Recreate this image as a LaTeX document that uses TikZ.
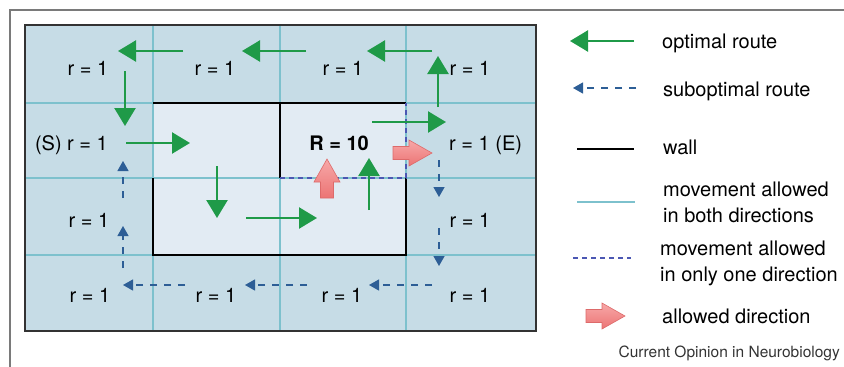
\documentclass[tikz,border=0pt]{standalone}
\usepackage{fontspec}
\setmainfont{TeX Gyre Heros}
\usepackage{tikz}
\usetikzlibrary{arrows.meta,positioning}
\definecolor{cellout}{HTML}{C6DCE6}
\definecolor{cellin}{HTML}{E2EBF3}
\definecolor{gridln}{HTML}{7DC1CD}
\definecolor{optgreen}{HTML}{1F9A48}
\definecolor{subblue}{HTML}{2D5E96}
\definecolor{onewayblue}{HTML}{4B57B3}
\definecolor{framegray}{HTML}{7A7A7A}
\definecolor{edgegray}{HTML}{333333}
\definecolor{pinkfill}{HTML}{EC7474}
\definecolor{pinklite}{HTML}{F7A8A8}
\definecolor{pinkedge}{HTML}{DD6A6A}
\tikzset{
  reward/.style={font=\fontsize{20}{24}\selectfont, inner sep=0pt, anchor=base},
  legtext/.style={font=\fontsize{20}{25.5}\selectfont, align=left, anchor=base west, inner sep=0pt},
  optimal/.style={-{Triangle[length=18pt,width=21pt]}, draw=optgreen, line width=2.4pt},
  subopt/.style={-{Triangle[length=10pt,width=11pt]}, draw=subblue, line width=1.3pt,
                 dash pattern=on 7pt off 7pt},
  wall/.style={draw=black, line width=2.8pt},
  gridline/.style={draw=gridln, line width=1.2pt},
  oneway/.style={draw=onewayblue, line width=2.5pt, dash pattern=on 5pt off 4pt},
  fatarrow/.pic={
    \path[draw=pinkedge, line width=0.6pt, top color=pinklite, bottom color=pinkfill]
      (0,-6.5) -- (16,-6.5) -- (16,-13) -- (39,0) -- (16,13) -- (16,6.5) -- (0,6.5) -- cycle;
  }
}

\begin{document}
\begin{tikzpicture}[x=1pt, y=-1pt]
 \useasboundingbox (0,0) rectangle (844,367);
 \draw[framegray, line width=2pt] (844,10) -- (10,10) -- (10,367);

 % the maze
 \fill[cellout] (25,25) rectangle (536,331);
 \fill[cellin] (153,103) rectangle (406,255);
 \foreach \x in {153,280,406} \draw[gridline] (\x,25) -- (\x,331);
 \foreach \y in {103,178,255} \draw[gridline] (25,\y) -- (536,\y);
 \draw[edgegray, line width=2.5pt] (25,25) rectangle (536,331);
 \draw[wall] (153,103) -- (406,103);
 \draw[wall] (280,103) -- (280,178);
 \draw[wall] (153,178) -- (153,255) -- (406,255) -- (406,178);
 \draw[oneway] (280,178) -- (406,178) -- (406,103);

 % rewards
 \node[reward] (r00) at (88,75) {r = 1};
 \node[reward] (r01) at (215,75) {r = 1};
 \node[reward] (r02) at (343,75) {r = 1};
 \node[reward] (r03) at (470,75) {r = 1};
 \node[reward, anchor=base east] (start) at (108,150) {(S) r = 1};
 \node[reward, font=\fontsize{20}{24}\selectfont\bfseries] (goal) at (339,150) {R = 10};
 \node[reward, anchor=base west] (exit) at (449,150) {r = 1 (E)};
 \node[reward] (r20) at (89,227) {r = 1};
 \node[reward] (r23) at (470,227) {r = 1};
 \node[reward] (r30) at (90,302) {r = 1};
 \node[reward] (r31) at (216,302) {r = 1};
 \node[reward] (r32) at (342,302) {r = 1};
 \node[reward] (r33) at (470,302) {r = 1};

 % optimal route
 \draw[optimal] (183,51) -- (118,51);
 \draw[optimal] (306,51) -- (242,51);
 \draw[optimal] (432,51) -- (367,51);
 \draw[optimal] (438,107) -- (438,56);
 \draw[optimal] (372,122) -- (446,122);
 \draw[optimal] (125,71) -- (125,126);
 \draw[optimal] (126,143) -- (190,143);
 \draw[optimal] (217,166) -- (217,218);
 \draw[optimal] (246,218) -- (317,218);
 \draw[optimal] (369,210) -- (369,158);

 % suboptimal route
 \draw[subopt] (439,160) -- (439,197);
 \draw[subopt] (439,228) -- (439,266);
 \draw[subopt] (432,285) -- (369,285);
 \draw[subopt] (307,285) -- (245,285);
 \draw[subopt] (185,285) -- (123,285);
 \draw[subopt] (123,268) -- (123,226);
 \draw[subopt] (123,198) -- (123,161);

 % allowed directions
 \pic at (393,153) {fatarrow};
 \pic[rotate=90] at (327,198) {fatarrow};

 % legend
 \draw[optimal] (634,41) -- (570,41);
 \node[legtext] (lopt) at (662,48) {optimal route};
 \draw[subopt] (636,88) -- (573,88);
 \node[legtext] (lsub) at (663,96) {suboptimal route};
 \draw[wall] (577,149) -- (634,149);
 \node[legtext] (lwall) at (663,154) {wall};
 \draw[gridline] (577,202) -- (635,202);
 \node[legtext] (lboth) at (663,222) {movement allowed\\in both directions};
 \draw[oneway, line width=1.5pt] (573,258) -- (631,258);
 \node[legtext] (lone) at (660,281) {movement allowed\\in only one direction};
 \pic at (586,316) {fatarrow};
 \node[legtext] (ldir) at (662,323) {allowed direction};
 \node[font=\fontsize{15.5}{18}\selectfont, anchor=base east, inner sep=0pt, text=black!80] (credit)
   at (840,357) {Current Opinion in Neurobiology};
\end{tikzpicture}
\end{document}
